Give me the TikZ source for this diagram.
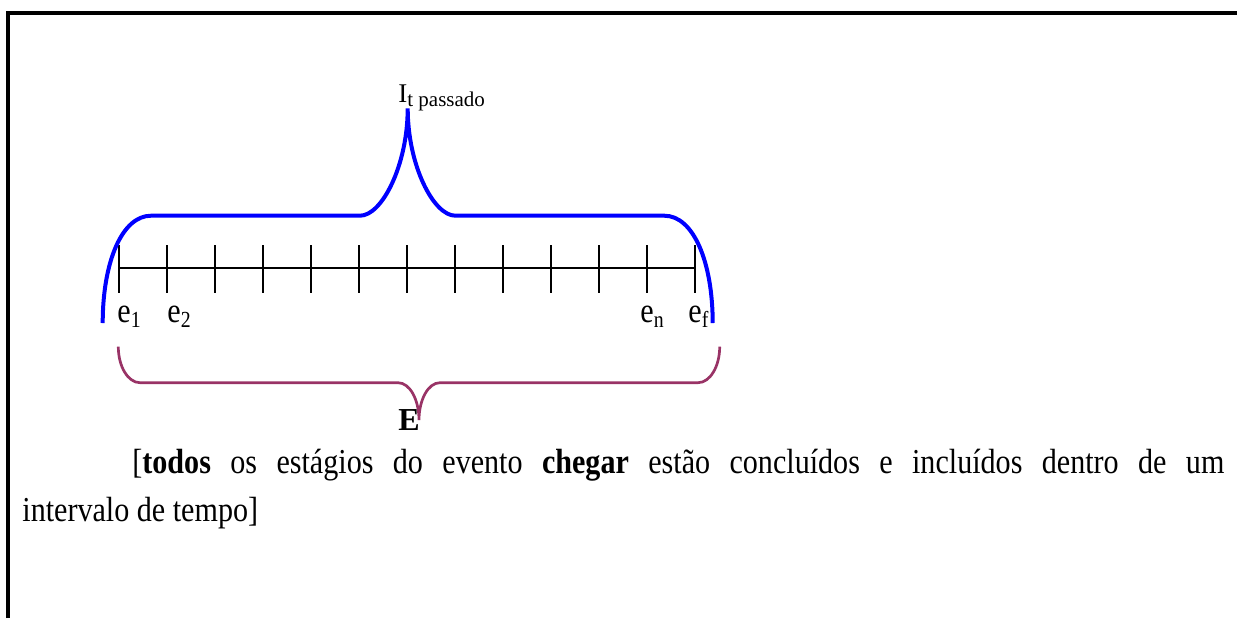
\documentclass[tikz,border=0pt]{standalone}
\usepackage{fontspec}
\setmainfont{Liberation Serif}
\newfontfamily\estreito[FakeStretch=0.86]{Liberation Serif}
\usetikzlibrary{calc}
\definecolor{ameixa}{RGB}{153,51,102}

\begin{document}
\begin{tikzpicture}[x=0.5pt, y=-0.5pt, line join=miter,
  rotulo/.style={inner sep=0pt, anchor=base west, font=\estreito\fontsize{17.5}{21}\selectfont},
  chaveazul/.style={line width=2pt, blue},
  chaveameixa/.style={line width=1.35pt, ameixa}]

\useasboundingbox (0,0) rectangle (1237,618);

% moldura
\draw[line width=2pt] (8,618) -- (8,13) -- (1237,13);

% eixo do tempo
\coordinate (A) at (119,268);
\coordinate (B) at (695,268);
\draw[line width=0.6pt] (A) -- (B);
\foreach \i in {0,...,12}
  \draw[line width=0.7pt] ($(A)+(48*\i,-23)$) -- ($(A)+(48*\i,25)$);

% estagios
\node[rotulo] (e1) at (117,322) {e\raisebox{-2.5pt}{\fontsize{11.5}{11}\selectfont 1}};
\node[rotulo] (e2) at (167,322) {e\raisebox{-2.5pt}{\fontsize{11.5}{11}\selectfont 2}};
\node[rotulo] (en) at (640,322) {e\raisebox{-2.5pt}{\fontsize{11.5}{11}\selectfont n}};
\node[rotulo] (ef) at (688,322) {e\raisebox{-2.5pt}{\fontsize{11.5}{11}\selectfont f}};

% chave azul: intervalo
\coordinate (ia) at (102.7,323);
\coordinate (ib) at (407.7,108.3);
\coordinate (ic) at (712.7,323);
\draw[chaveazul] (ia) .. controls (102.7,262) and (122,215.7) .. (151,215.7)
  -- (360,215.7) .. controls (382,215.7) and (407.7,165) .. (ib)
  .. controls (407.7,165) and (433.4,215.7) .. (455.4,215.7)
  -- (664.4,215.7) .. controls (693.4,215.7) and (712.7,262) .. (ic);
\node[inner sep=0pt, anchor=base west] (I) at (398,102.5)
  {\fontsize{13.5}{15}\selectfont I\raisebox{-2pt}{\fontsize{10.5}{11}\selectfont t passado}};

% chave do evento
\coordinate (ea) at (118.3,346.7);
\coordinate (eb) at (419,420);
\coordinate (ec) at (719.7,346.7);
\draw[chaveameixa] (ea) .. controls (118.3,366.5) and (128,382.7) .. (140,382.7)
  -- (398,382.7) .. controls (410,382.7) and (419,400) .. (eb)
  .. controls (419,400) and (428,382.7) .. (440,382.7)
  -- (698,382.7) .. controls (710,382.7) and (719.7,366.5) .. (ec);
\node[inner sep=0pt, anchor=base west, font=\fontsize{16}{19}\selectfont\bfseries] (E) at (398,430) {E};

% texto
\node[rotulo] (t1) at (132,473) {\makebox[546pt][s]{[\textbf{todos} os estágios do evento \textbf{chegar} estão concluídos e incluídos dentro de um}};
\node[rotulo] (t2) at (22,521) {intervalo de tempo]};

\end{tikzpicture}
\end{document}
